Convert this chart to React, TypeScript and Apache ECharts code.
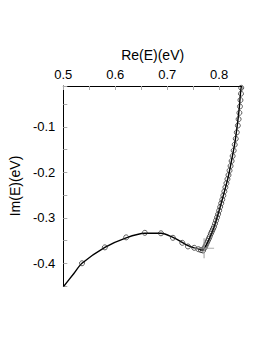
import React, { useEffect, useRef } from "react";
import * as echarts from "echarts";

const lineX = [0.5, 0.52, 0.536, 0.58, 0.621, 0.657, 0.688, 0.711, 0.729, 0.74, 0.752, 0.762, 0.768, 0.771, 0.7795, 0.79, 0.8, 0.809, 0.8175, 0.824, 0.83, 0.8345, 0.8383, 0.8416, 0.8428];
const lineY = [-0.452, -0.423, -0.4, -0.365, -0.344, -0.334, -0.334, -0.343, -0.354, -0.361, -0.366, -0.369, -0.371, -0.368, -0.35, -0.321, -0.284, -0.247, -0.21, -0.173, -0.137, -0.1, -0.063, -0.02, -0.01];

const circleX = [0.536, 0.58, 0.621, 0.657, 0.688, 0.711, 0.729, 0.74, 0.752, 0.76, 0.765, 0.769,
  0.772, 0.774, 0.776, 0.778, 0.78, 0.782, 0.784, 0.786, 0.788, 0.79, 0.792, 0.794, 0.796, 0.798, 0.8,
  0.802, 0.804, 0.806, 0.808, 0.81, 0.812, 0.814, 0.816, 0.818, 0.82, 0.822, 0.824, 0.826, 0.828, 0.83,
  0.832, 0.834, 0.836, 0.8375, 0.839, 0.84, 0.841, 0.842, 0.8425];
const circleY = [-0.4, -0.365, -0.343, -0.333, -0.334, -0.344, -0.355, -0.363, -0.366, -0.369, -0.371, -0.372,
  -0.366, -0.361, -0.356, -0.351, -0.346, -0.341, -0.335, -0.33, -0.325, -0.32, -0.313, -0.306, -0.299, -0.292, -0.284,
  -0.276, -0.268, -0.26, -0.251, -0.242, -0.233, -0.224, -0.215, -0.206, -0.196, -0.186, -0.175, -0.164, -0.152, -0.139,
  -0.126, -0.112, -0.097, -0.083, -0.069, -0.055, -0.041, -0.027, -0.014];

const crossX = [0.771];
const crossY = [-0.367];

const xName = "Re(E)(eV)";
const yName = "Im(E)(eV)";

const isTenth = (v: number) => Math.abs(v * 10 - Math.round(v * 10)) < 1e-6;

export default function App() {
  const ref = useRef<HTMLDivElement>(null);
  useEffect(() => {
    if (!ref.current) return;
    const chart = echarts.init(ref.current, undefined, { renderer: "svg" });
    const font = "'Liberation Sans', Arial, Helvetica, sans-serif";
    chart.setOption({
      animation: false,
      backgroundColor: "#fff",
      grid: { left: 61, top: 86, right: 24, bottom: 58 },
      xAxis: {
        type: "value",
        position: "top",
        min: 0.5,
        max: 0.844,
        interval: 0.05,
        name: xName,
        nameLocation: "middle",
        nameGap: 24,
        nameTextStyle: { fontSize: 14, color: "#000", fontFamily: font },
        axisLine: { show: true, lineStyle: { color: "#000", width: 1 } },
        axisTick: { show: true, inside: true, length: 4, lineStyle: { color: "#aaa" } },
        axisLabel: {
          fontSize: 13,
          color: "#000",
          fontFamily: font,
          margin: 5,
          formatter: (v: number) => (isTenth(v) ? v.toFixed(1) : ""),
        },
        splitLine: { show: false },
      },
      yAxis: {
        type: "value",
        min: -0.45,
        max: -0.01,
        interval: 0.05,
        name: yName,
        nameLocation: "middle",
        nameGap: 31,
        nameTextStyle: { fontSize: 14, color: "#000", fontFamily: font },
        axisLine: { show: true, lineStyle: { color: "#000", width: 1 } },
        axisTick: { show: true, inside: true, length: 4, lineStyle: { color: "#aaa" } },
        axisLabel: {
          fontSize: 13,
          color: "#000",
          fontFamily: font,
          margin: 8,
          formatter: (v: number) => (isTenth(v) ? v.toFixed(1) : ""),
        },
        splitLine: { show: false },
      },
      series: [
        {
          type: "line",
          data: lineX.map((x, i) => [x, lineY[i]]),
          smooth: 0.3,
          showSymbol: false,
          lineStyle: { color: "#000", width: 1.4 },
          z: 2,
        },
        {
          type: "scatter",
          data: circleX.map((x, i) => [x, circleY[i]]),
          symbol: "circle",
          symbolSize: 5,
          itemStyle: { color: "rgba(255,255,255,0)", borderColor: "#222", borderWidth: 0.9 },
          z: 3,
        },
        {
          type: "scatter",
          data: crossX.map((x, i) => [x, crossY[i]]),
          symbol: "path://M-0.06,-1H0.06V1H-0.06ZM-1,-0.06H1V0.06H-1Z",
          symbolSize: 20,
          itemStyle: { color: "#999" },
          z: 4,
        },
      ],
    });
    return () => chart.dispose();
  }, []);
  return <div ref={ref} style={{ position: "fixed", left: 0, top: 0, width: 266, height: 344 }} />;
}
